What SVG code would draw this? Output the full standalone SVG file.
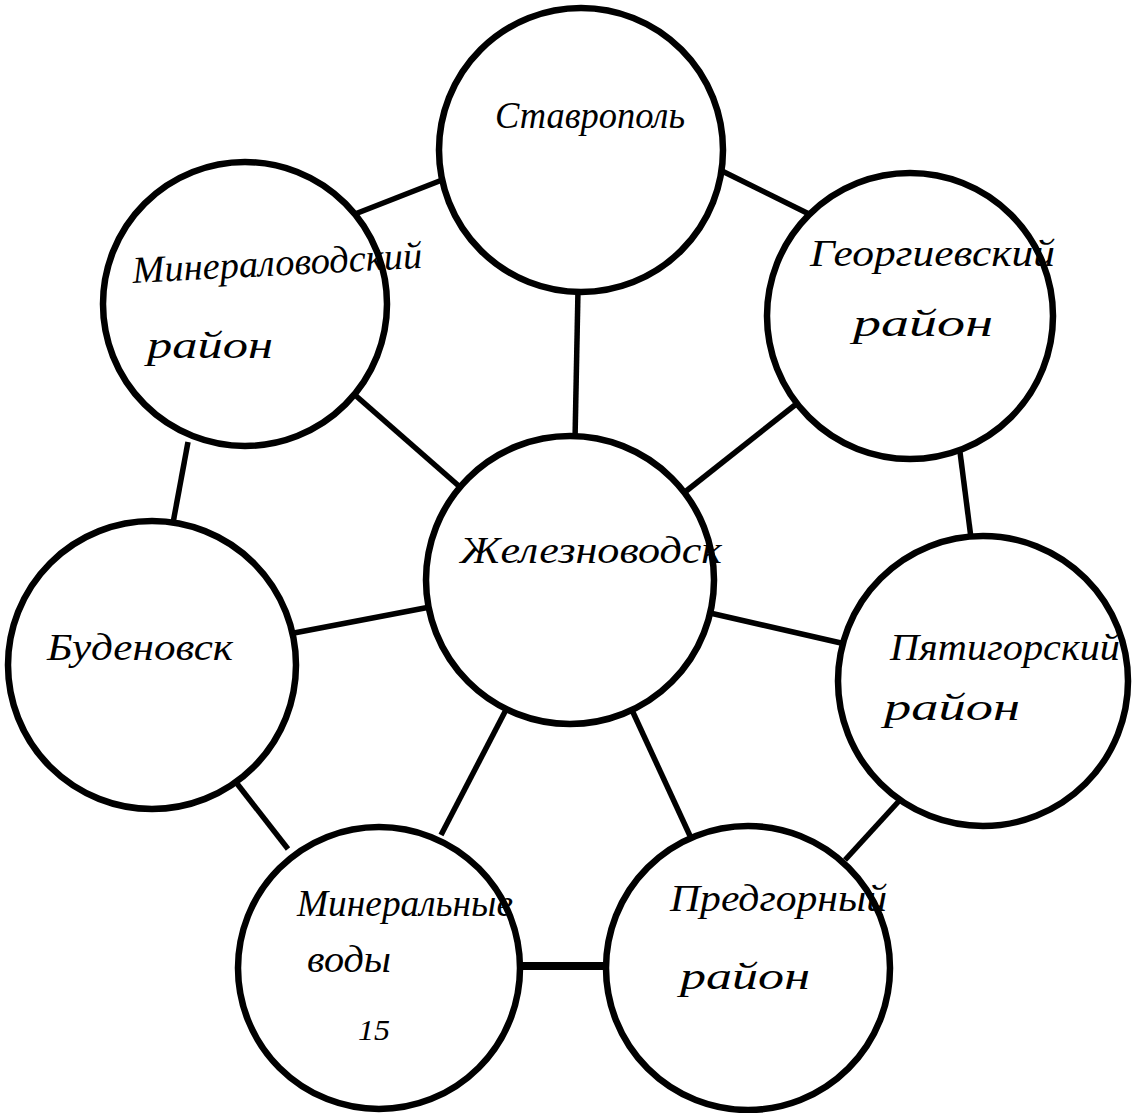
<svg xmlns="http://www.w3.org/2000/svg" width="1137" height="1113" viewBox="0 0 1137 1113">
<style>
.node circle{fill:#fff;stroke:#000;stroke-width:6.5}
.lbl{font-family:"Liberation Serif","DejaVu Serif",serif;font-style:italic;font-size:38px;fill:#000}
.edges line{stroke:#000;stroke-width:5.5;stroke-linecap:butt}
</style>
<rect width="1137" height="1113" fill="#fff"/>
<g id="connectors" class="edges">
<line x1="578" y1="290" x2="575" y2="440"/>
<line x1="442" y1="180" x2="355" y2="214"/>
<line x1="720" y1="170" x2="809" y2="214"/>
<line x1="355" y1="395" x2="460" y2="487"/>
<line x1="795" y1="405" x2="685" y2="492"/>
<line x1="188" y1="442" x2="173" y2="523"/>
<line x1="960" y1="452" x2="971" y2="538"/>
<line x1="294" y1="633" x2="430" y2="607"/>
<line x1="710" y1="613" x2="841" y2="643"/>
<line x1="235" y1="781" x2="288" y2="849"/>
<line x1="899" y1="801" x2="845" y2="860"/>
<line x1="509" y1="704" x2="441" y2="835"/>
<line x1="631" y1="708" x2="691" y2="838"/>
<line x1="520" y1="966" x2="608" y2="966" style="stroke-width:8"/>
</g>
<g id="n-stavropol" class="node"><circle cx="581" cy="150" r="142"/><text class="lbl" x="495" y="128" textLength="190" lengthAdjust="spacingAndGlyphs">Ставрополь</text></g>
<g id="n-mineralovodsky" class="node"><circle cx="245" cy="304" r="142"/><text class="lbl" transform="rotate(-3 133 283)" x="133" y="283" textLength="290" lengthAdjust="spacingAndGlyphs">Минераловодский</text><text class="lbl" x="147" y="358" textLength="126" lengthAdjust="spacingAndGlyphs">район</text></g>
<g id="n-georgievsky" class="node"><circle cx="910" cy="316" r="143"/><text class="lbl" x="810" y="266" textLength="245" lengthAdjust="spacingAndGlyphs">Георгиевский</text><text class="lbl" x="853" y="336" textLength="140" lengthAdjust="spacingAndGlyphs">район</text></g>
<g id="n-zheleznovodsk" class="node"><circle cx="570" cy="580" r="144"/><text class="lbl" x="460" y="563" textLength="262" lengthAdjust="spacingAndGlyphs">Железноводск</text></g>
<g id="n-budenovsk" class="node"><circle cx="152" cy="665" r="144"/><text class="lbl" x="47" y="660" textLength="186" lengthAdjust="spacingAndGlyphs">Буденовск</text></g>
<g id="n-pyatigorsky" class="node"><circle cx="983" cy="681" r="145"/><text class="lbl" x="890" y="660" textLength="230" lengthAdjust="spacingAndGlyphs">Пятигорский</text><text class="lbl" x="884" y="720" textLength="136" lengthAdjust="spacingAndGlyphs">район</text></g>
<g id="n-mineralnye-vody" class="node"><circle cx="379" cy="968" r="141"/><text class="lbl" x="297" y="916" textLength="216" lengthAdjust="spacingAndGlyphs">Минеральные</text><text class="lbl" x="307" y="972" textLength="84" lengthAdjust="spacingAndGlyphs">воды</text><text class="lbl" x="358" y="1040" style="font-size:30px" textLength="32" lengthAdjust="spacingAndGlyphs">15</text></g>
<g id="n-predgorny" class="node"><circle cx="748" cy="968" r="142"/><text class="lbl" x="670" y="911" textLength="217" lengthAdjust="spacingAndGlyphs">Предгорный</text><text class="lbl" x="680" y="989" textLength="130" lengthAdjust="spacingAndGlyphs">район</text></g>
</svg>
